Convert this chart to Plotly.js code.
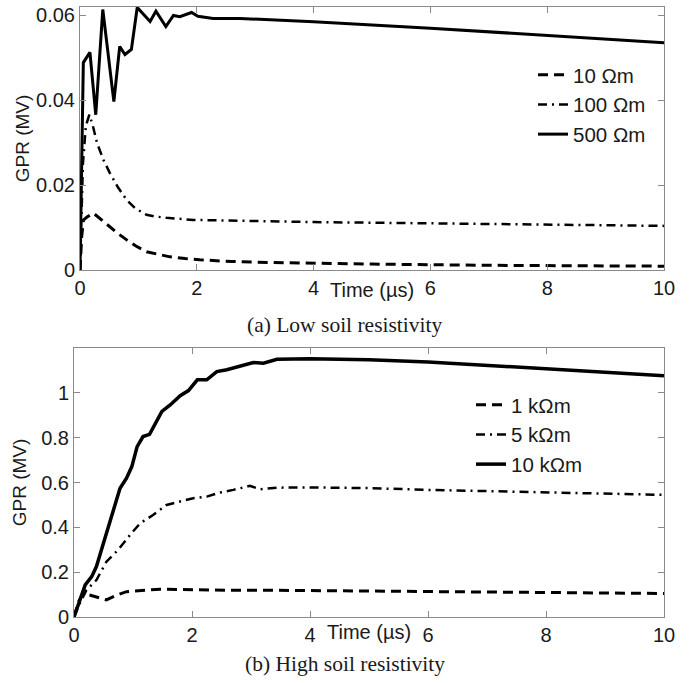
<!DOCTYPE html>
<html>
<head>
<meta charset="utf-8">
<script src="https://cdn.plot.ly/plotly-3.0.1.min.js"></script>
<style>html,body{margin:0;padding:0;background:#fff;}#chart{width:691px;height:683px;}</style>
</head>
<body>
<div id="chart"></div>
<script>
// ---- Data ----
// (a) Low soil resistivity
const t10 = [0, 0.03, 0.06, 0.12, 0.23, 0.35, 0.51, 0.65, 0.80, 0.95, 1.14, 1.35, 1.54, 1.8, 2.05, 2.6, 3.5, 5, 7, 10];
const v10 = [0, 0.008, 0.0118, 0.0125, 0.0134, 0.0120, 0.0102, 0.0086, 0.0071, 0.0057, 0.0043, 0.0036, 0.0031, 0.0027, 0.0024, 0.0020, 0.0017, 0.0014, 0.0011, 0.0009];

const t100 = [0, 0.05, 0.10, 0.16, 0.22, 0.29, 0.40, 0.51, 0.65, 0.80, 0.95, 1.14, 1.30, 1.48, 1.94, 2.68, 4, 6, 8, 10];
const v100 = [0, 0.025, 0.034, 0.0366, 0.034, 0.030, 0.026, 0.0229, 0.0195, 0.0165, 0.0145, 0.0130, 0.0126, 0.0123, 0.0118, 0.0116, 0.0113, 0.0110, 0.0107, 0.0104];

const t500 = [0, 0.03, 0.057, 0.17, 0.27, 0.39, 0.58, 0.68, 0.77, 0.88, 0.98, 1.2, 1.3, 1.47, 1.6, 1.71, 1.91, 2.02, 2.28, 2.74, 4, 6, 8, 10];
const v500 = [0, 0.030, 0.0489, 0.0513, 0.0366, 0.0614, 0.0397, 0.0527, 0.0508, 0.052, 0.0619, 0.0586, 0.061, 0.0574, 0.060, 0.0597, 0.0607, 0.0598, 0.0593, 0.0593, 0.0585, 0.0570, 0.0553, 0.0536];

// (b) High soil resistivity
const t1k = [0, 0.08, 0.16, 0.30, 0.55, 0.7, 0.89, 1.46, 2.0, 2.59, 3.44, 5, 7, 10];
const v1k = [0, 0.07, 0.106, 0.095, 0.076, 0.095, 0.113, 0.124, 0.121, 0.119, 0.119, 0.116, 0.112, 0.105];

const t5k = [0, 0.1, 0.21, 0.38, 0.55, 0.75, 0.95, 1.12, 1.34, 1.57, 1.80, 2.02, 2.25, 2.47, 2.70, 2.98, 3.15, 3.44, 4, 5, 6, 8, 10];
const v5k = [0, 0.062, 0.12, 0.165, 0.247, 0.30, 0.366, 0.418, 0.455, 0.50, 0.515, 0.53, 0.537, 0.555, 0.567, 0.585, 0.57, 0.577, 0.578, 0.575, 0.567, 0.556, 0.545];

const t10k = [0, 0.19, 0.30, 0.38, 0.50, 0.67, 0.78, 0.89, 0.98, 1.07, 1.17, 1.28, 1.37, 1.49, 1.63, 1.80, 1.94, 2.09, 2.25, 2.42, 2.59, 2.81, 3.04, 3.21, 3.44, 4, 5, 6, 8, 10];
const v10k = [0, 0.143, 0.18, 0.225, 0.33, 0.478, 0.574, 0.619, 0.671, 0.76, 0.805, 0.815, 0.857, 0.917, 0.946, 0.987, 1.01, 1.058, 1.058, 1.095, 1.103, 1.12, 1.135, 1.132, 1.15, 1.152, 1.148, 1.138, 1.107, 1.076];

const xTicks = [0, 2, 4, 6, 8, 10];
const yTicksA = [0, 0.02, 0.04, 0.06];
const yTickTextA = ['0', '0.02', '0.04', '0.06'];
const yTicksB = [0, 0.2, 0.4, 0.6, 0.8, 1];
const yTickTextB = ['0', '0.2', '0.4', '0.6', '0.8', '1'];

const namesA = ['10 Ωm', '100 Ωm', '500 Ωm'];
const namesB = ['1 kΩm', '5 kΩm', '10 kΩm'];
const captionA = '(a) Low soil resistivity';
const captionB = '(b) High soil resistivity';
const xTitle = 'Time (µs)';
const yTitle = 'GPR (MV)';

// ---- Styles ----
const DASH = '10px,6px';
const DASHDOT = '9px,5px,2px,5px';
const sans = 'Liberation Sans, Arial, sans-serif';
const serif = 'Liberation Serif, Times New Roman, serif';
const INK = '#1a1a1a';

const traces = [
  {x: t10, y: v10, name: namesA[0], mode: 'lines', line: {color: '#000', width: 3, dash: DASH}, xaxis: 'x', yaxis: 'y', legend: 'legend'},
  {x: t100, y: v100, name: namesA[1], mode: 'lines', line: {color: '#000', width: 2.5, dash: DASHDOT}, xaxis: 'x', yaxis: 'y', legend: 'legend'},
  {x: t500, y: v500, name: namesA[2], mode: 'lines', line: {color: '#000', width: 3}, xaxis: 'x', yaxis: 'y', legend: 'legend'},
  {x: t1k, y: v1k, name: namesB[0], mode: 'lines', line: {color: '#000', width: 3, dash: DASH}, xaxis: 'x2', yaxis: 'y2', legend: 'legend2'},
  {x: t5k, y: v5k, name: namesB[1], mode: 'lines', line: {color: '#000', width: 2.5, dash: DASHDOT}, xaxis: 'x2', yaxis: 'y2', legend: 'legend2'},
  {x: t10k, y: v10k, name: namesB[2], mode: 'lines', line: {color: '#000', width: 3.5}, xaxis: 'x2', yaxis: 'y2', legend: 'legend2'}
];

const axisCommon = {
  showline: true, mirror: 'ticks', linecolor: '#8a8a8a', linewidth: 1,
  ticks: 'inside', ticklen: 6, tickcolor: '#8a8a8a', tickwidth: 1,
  showgrid: false, zeroline: false,
  tickfont: {family: sans, size: 20, color: INK}
};

const layout = {
  width: 691, height: 683,
  margin: {l: 0, r: 0, t: 0, b: 0},
  paper_bgcolor: '#fff', plot_bgcolor: '#fff',
  showlegend: true,
  xaxis: Object.assign({}, axisCommon, {domain: [80/691, 664/691], range: [0, 10], tickvals: xTicks, anchor: 'y'}),
  yaxis: Object.assign({}, axisCommon, {domain: [413/683, 676/683], range: [0, 0.062], tickvals: yTicksA, ticktext: yTickTextA, anchor: 'x',
    title: {text: yTitle, font: {family: sans, size: 19, color: INK}, standoff: 1}}),
  xaxis2: Object.assign({}, axisCommon, {domain: [74/691, 664/691], range: [0, 10], tickvals: xTicks, anchor: 'y2'}),
  yaxis2: Object.assign({}, axisCommon, {domain: [66/683, 335/683], range: [0, 1.2], tickvals: yTicksB, ticktext: yTickTextB, anchor: 'x2',
    title: {text: yTitle, font: {family: sans, size: 19, color: INK}, standoff: 9}}),
  legend: {x: 533/691, y: 1 - 55/683, xanchor: 'left', yanchor: 'top', bgcolor: 'rgba(0,0,0,0)',
    font: {family: sans, size: 20.5, color: INK}, tracegroupgap: 0, itemwidth: 30},
  legend2: {x: 471/691, y: 1 - 385/683, xanchor: 'left', yanchor: 'top', bgcolor: 'rgba(0,0,0,0)',
    font: {family: sans, size: 20.5, color: INK}, tracegroupgap: 0, itemwidth: 30},
  annotations: [
    {text: xTitle, xref: 'x', yref: 'paper', x: 5, y: 1 - 290/683, showarrow: false, xanchor: 'center', yanchor: 'middle',
     font: {family: sans, size: 20, color: INK}},
    {text: xTitle, xref: 'x2', yref: 'paper', x: 5, y: 1 - 632/683, showarrow: false, xanchor: 'center', yanchor: 'middle',
     font: {family: sans, size: 20, color: INK}},
    {text: captionA, xref: 'paper', yref: 'paper', x: 345/691, y: 1 - 325/683, showarrow: false, xanchor: 'center', yanchor: 'middle',
     font: {family: serif, size: 21.5, color: INK}},
    {text: captionB, xref: 'paper', yref: 'paper', x: 345/691, y: 1 - 664/683, showarrow: false, xanchor: 'center', yanchor: 'middle',
     font: {family: serif, size: 21.5, color: INK}}
  ]
};

Plotly.newPlot('chart', traces, layout, {staticPlot: true, displayModeBar: false});
</script>
</body>
</html>
